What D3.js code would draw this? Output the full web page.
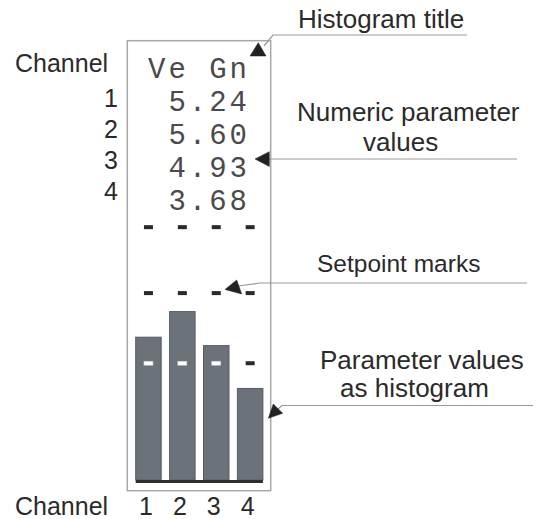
<!DOCTYPE html>
<html>
<head>
<meta charset="utf-8">
<script src="https://cdn.jsdelivr.net/npm/d3@7"></script>
<style>
  html, body { margin: 0; padding: 0; background: #fff; }
  svg { display: block; }
</style>
</head>
<body>
<script>
// ---------------- data ----------------
const channels = [1, 2, 3, 4];
const titleText = "Ve Gn";
const valueLabels = ["5.24", "5.60", "4.93", "3.68"];
// bar heights on the display scale (0-10 units)
const barLevels = [3.40, 4.01, 3.20, 2.18];
// setpoint mark levels per channel on the same scale
const markHigh = [6.02, 6.02, 6.02, 6.02];
const markMid  = [4.45, 4.45, 4.45, 4.45];
const markLow  = [2.78, 2.78, 2.78, 2.78];
const leftHeader = "Channel";
const bottomHeader = "Channel";
const annotations = [
  { lines: ["Histogram title"], x: 298, y: [28], size: 26 },
  { lines: ["Numeric parameter", "values"], x: [297, 363], y: [121, 151], size: 26 },
  { lines: ["Setpoint marks"], x: 317, y: [272], size: 24.5 },
  { lines: ["Parameter values", "as histogram"], x: [320, 340], y: [369, 397], size: 26 }
];

// ---------------- layout ----------------
const W = 539, H = 519;
const svg = d3.select("body").append("svg")
  .attr("width", W).attr("height", H)
  .attr("viewBox", `0 0 ${W} ${H}`);
svg.append("rect").attr("width", W).attr("height", H).attr("fill", "#fff");

const panel = { x0: 127.3, y0: 40.7, x1: 270.7, y1: 490.7 };
const x = d3.scaleBand().domain(channels).range([135.7, 262.9]).paddingInner(0.248).paddingOuter(0);
const y = d3.scaleLinear().domain([0, 10]).range([480, 60]);
const rowY = d3.scalePoint().domain(d3.range(5)).range([78, 210]);
const leftRowY = d3.scalePoint().domain(channels).range([107, 200]);

const textCol = "#2a2a2a";
const lineCol = "#9a9a9a";
const sans = "'Liberation Sans', Arial, Helvetica, sans-serif";
const mono = "'Liberation Mono', 'Courier New', monospace";

// panel frame
svg.append("rect")
  .attr("x", panel.x0).attr("y", panel.y0)
  .attr("width", panel.x1 - panel.x0).attr("height", panel.y1 - panel.y0)
  .attr("fill", "none").attr("stroke", "#a8a8a8").attr("stroke-width", 1.5);

// monospace header and values
const monoSize = 29, monoSpacing = 3;
const monoRows = [titleText].concat(valueLabels);
svg.append("g").selectAll("text").data(monoRows).join("text")
  .attr("x", 247 + monoSpacing).attr("y", (d, i) => rowY(i))
  .attr("text-anchor", "end")
  .attr("font-family", mono).attr("font-size", monoSize)
  .attr("letter-spacing", monoSpacing)
  .attr("fill", "#4a4a4a")
  .text(d => d);

// bars
svg.append("g").selectAll("rect").data(barLevels).join("rect")
  .attr("x", (d, i) => x(channels[i]))
  .attr("y", d => y(d))
  .attr("width", x.bandwidth())
  .attr("height", d => y(0) - y(d))
  .attr("fill", "#6b7279")
  .attr("stroke", "#565c62").attr("stroke-width", 1);

// baseline
svg.append("rect")
  .attr("x", x.range()[0]).attr("y", y(0))
  .attr("width", x.range()[1] - x.range()[0]).attr("height", 3)
  .attr("fill", "#2c3034");

// setpoint marks
const dashW = 9, dashH = 4;
[markHigh, markMid, markLow].forEach(arr => {
  svg.append("g").selectAll("rect").data(arr).join("rect")
    .attr("x", (d, i) => x(channels[i]) + x.bandwidth() / 2 - dashW / 2)
    .attr("y", d => y(d) - dashH / 2)
    .attr("width", dashW).attr("height", dashH)
    .attr("fill", (d, i) => d < barLevels[i] ? "#ffffff" : "#2a2a2a")
    .attr("stroke", (d, i) => d < barLevels[i] ? "#c8c8c8" : "none")
    .attr("stroke-width", 0.6);
});

// left channel column
svg.append("text").attr("x", 15).attr("y", 72)
  .attr("font-family", sans).attr("font-size", 25).attr("fill", textCol)
  .text(leftHeader);
svg.append("g").selectAll("text").data(channels).join("text")
  .attr("x", 118).attr("y", d => leftRowY(d))
  .attr("text-anchor", "end")
  .attr("font-family", sans).attr("font-size", 25).attr("fill", textCol)
  .text(d => d);

// bottom channel axis
svg.append("text").attr("x", 15).attr("y", 515)
  .attr("font-family", sans).attr("font-size", 25).attr("fill", textCol)
  .text(bottomHeader);
svg.append("g").selectAll("text").data(channels).join("text")
  .attr("x", d => x(d) + x.bandwidth() / 2 - 2.5).attr("y", 515)
  .attr("text-anchor", "middle")
  .attr("font-family", sans).attr("font-size", 25).attr("fill", textCol)
  .text(d => d);

// annotations text
annotations.forEach(a => {
  a.lines.forEach((ln, i) => {
    svg.append("text")
      .attr("x", Array.isArray(a.x) ? a.x[i] : a.x)
      .attr("y", a.y[i])
      .attr("font-family", sans).attr("font-size", a.size).attr("fill", textCol)
      .text(ln);
  });
});

// leader lines and arrow heads
const leaders = [
  { line: [[264, 46], [273, 35], [467, 35]], tri: [[250, 56], [266, 56], [258.3, 42.7]] },
  { line: [[268, 159], [517, 159]], tri: [[255, 159], [269.3, 151.7], [269.3, 166.5]] },
  { line: [[238, 286], [260, 283], [527, 283]], tri: [[225, 289.5], [236.7, 280], [241.7, 294]] },
  { line: [[278, 409], [282, 405.5], [533, 405.5]], tri: [[268.3, 418.3], [273.3, 404], [282.7, 413.3]] }
];
const lineGen = d3.line();
leaders.forEach(l => {
  svg.append("path").attr("d", lineGen(l.line))
    .attr("fill", "none").attr("stroke", lineCol).attr("stroke-width", 1.2);
  svg.append("path").attr("d", lineGen(l.tri) + "Z")
    .attr("fill", "#222").attr("stroke", "#222").attr("stroke-width", 0.5);
});
</script>
</body>
</html>
